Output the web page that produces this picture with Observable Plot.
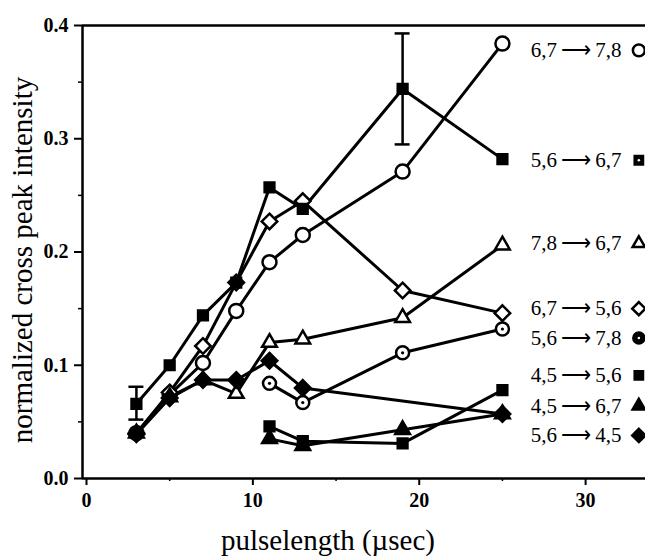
<!DOCTYPE html>
<html><head><meta charset="utf-8">
<script src="https://cdn.jsdelivr.net/npm/d3@7"></script>
<script src="https://cdn.jsdelivr.net/npm/@observablehq/plot@0.6"></script>
<style>body{margin:0;background:#fff}</style>
</head><body><div id="chart"></div>
<script>
// ---- data ----
const pulseAll = [3, 5, 7, 9, 11, 13, 19, 25];
const pulseLate = [11, 13, 19, 25];
const pulseSkip19 = [3, 5, 7, 9, 11, 13, 25];

const v_67_78 = [0.040, 0.074, 0.102, 0.148, 0.191, 0.215, 0.271, 0.384];
const v_56_67 = [0.066, 0.100, 0.144, 0.173, 0.257, 0.238, 0.344, 0.282];
const v_78_67 = [0.040, 0.072, 0.087, 0.075, 0.120, 0.123, 0.142, 0.206];
const v_67_56 = [0.040, 0.076, 0.117, 0.173, 0.227, 0.245, 0.166, 0.146];
const v_56_78 = [0.084, 0.067, 0.111, 0.132];
const v_45_56 = [0.046, 0.033, 0.031, 0.078];
const v_45_67 = [0.035, 0.029, 0.043, 0.057];
const v_56_45 = [0.039, 0.071, 0.087, 0.087, 0.104, 0.080, 0.057];

const errPulse = [3, 19];
const errLow = [0.052, 0.295];
const errHigh = [0.081, 0.393];

const seriesNames = ["6,7\u2009\u27F6\u20097,8", "5,6\u2009\u27F6\u20096,7", "7,8\u2009\u27F6\u20096,7", "6,7\u2009\u27F6\u20095,6",
                     "5,6\u2009\u27F6\u20097,8", "4,5\u2009\u27F6\u20095,6", "4,5\u2009\u27F6\u20096,7", "5,6\u2009\u27F6\u20094,5"];
const seriesX = [pulseAll, pulseAll, pulseAll, pulseAll, pulseLate, pulseLate, pulseLate, pulseSkip19];
const seriesV = [v_67_78, v_56_67, v_78_67, v_67_56, v_56_78, v_45_56, v_45_67, v_56_45];

const xTicks = [0, 10, 20, 30];
const yTicks = [0, 0.1, 0.2, 0.3, 0.4];

// ---- layout / style ----
const legendRowY = [0.378, 0.281, 0.2075, 0.150, 0.124, 0.091, 0.064, 0.038];
const legendTextX = 26.7;
const legendMarkX = 33.2;
const markSymbol = ["circle", "square", "triangle2", "diamond2", "circle", "square", "triangle2", "diamond2"];
const markFilled = [false, true, false, false, false, true, true, true];
const markR = [7, 5.5, 7, 7, 6.5, 5.5, 7, 7];
const drawOrder = [0, 3, 2, 4, 1, 5, 6, 7];

const rows = seriesNames.flatMap((name, i) =>
  seriesX[i].map((x, j) => ({series: name, idx: i, x, y: seriesV[i][j]})));
const errRows = errPulse.map((x, i) => ({x, lo: errLow[i], hi: errHigh[i]}));
const xMinor = xTicks.slice(0, -1).map(d => d + 5);
const yMinor = yTicks.slice(0, -1).map(d => d + 0.05);
const xDomain = [-0.24, 33.6];

const marks = [
  Plot.ruleY([0.4], {strokeWidth: 2.5}),
  Plot.ruleY([0], {strokeWidth: 2.5}),
  Plot.ruleX([xDomain[0]], {strokeWidth: 2.5}),
  Plot.axisY(yTicks, {tickSize: 8, tickPadding: 6, tickFormat: d3.format(".1f"), label: null, strokeWidth: 2, fontWeight: "bold", fontSize: 20, fontFamily: "'Liberation Serif', serif"}),
  Plot.axisY(yMinor, {tickSize: 4, tickFormat: () => "", label: null, strokeWidth: 1.5}),
  Plot.axisX(xTicks, {tickSize: 7, tickPadding: 7, label: null, strokeWidth: 2, fontWeight: "bold", fontSize: 20, fontFamily: "'Liberation Serif', serif"}),
  Plot.axisX(xMinor, {tickSize: 3, tickFormat: () => "", label: null, strokeWidth: 1.5}),
  Plot.line(rows, {x: "x", y: "y", z: "series", stroke: "black", strokeWidth: 3, strokeLinejoin: "round"}),
  Plot.ruleX(errRows, {x: "x", y1: "lo", y2: "hi", strokeWidth: 2.5}),
  Plot.ruleY(errRows, {y: "lo", x1: d => d.x - 0.45, x2: d => d.x + 0.45, strokeWidth: 2.5}),
  Plot.ruleY(errRows, {y: "hi", x1: d => d.x - 0.45, x2: d => d.x + 0.45, strokeWidth: 2.5})
];
for (const i of drawOrder) {
  const data = rows.filter(d => d.idx === i);
  marks.push(Plot.dot(data, {x: "x", y: "y", symbol: markSymbol[i], r: markR[i],
    fill: markFilled[i] ? "black" : "white", stroke: "black", strokeWidth: 2.5}));
  if (i === 4) marks.push(Plot.dot(data, {x: "x", y: "y", r: 1.6, fill: "black"}));
}
// legend
marks.push(Plot.text(seriesNames, {x: legendTextX, y: (d, i) => legendRowY[i], textAnchor: "start", fontSize: 21}));
seriesNames.forEach((n, i) => {
  marks.push(Plot.dot([n], {x: legendMarkX, y: legendRowY[i], symbol: markSymbol[i], r: markR[i] * 0.85,
    fill: (markFilled[i] || i === 4) ? "black" : "white", stroke: "black", strokeWidth: 2.5}));
  if (i === 1 || i === 4) marks.push(Plot.dot([n], {x: legendMarkX, y: legendRowY[i], r: 1.3, fill: "white"}));
});
// axis titles
marks.push(Plot.text(["normalized cross peak intensity"], {frameAnchor: "left", textAnchor: "middle", rotate: -90, dx: -51, dy: 8, lineAnchor: "bottom", fontSize: 29}));
marks.push(Plot.text(["pulselength (\u00b5sec)"], {frameAnchor: "bottom", textAnchor: "middle", dx: -36, dy: 71, lineAnchor: "bottom", fontSize: 29}));

const chart = Plot.plot({
  width: 645, height: 557,
  marginLeft: 82, marginRight: 0, marginTop: 25, marginBottom: 79,
  x: {domain: xDomain, label: null},
  y: {domain: [0, 0.4], label: null},
  style: {fontFamily: "'Liberation Serif', serif", fontSize: "21px", color: "black", background: "white"},
  marks
});
document.getElementById("chart").appendChild(chart);
</script>
</body></html>
